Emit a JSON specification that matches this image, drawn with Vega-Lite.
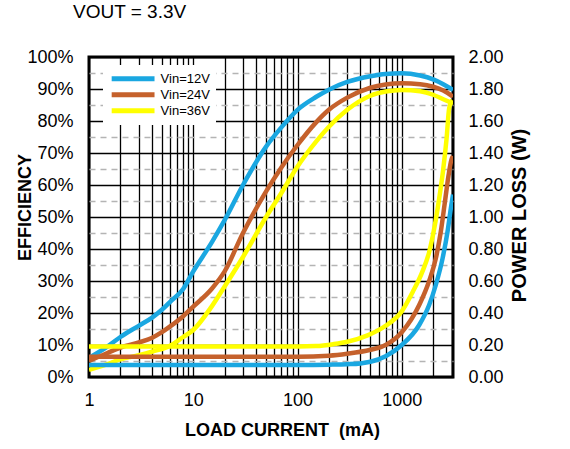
{
  "$schema": "https://vega.github.io/schema/vega-lite/v6.json",
  "autosize": "none",
  "width": 364,
  "height": 320,
  "padding": {"left": 89, "top": 57, "right": 117, "bottom": 72},
  "background": "white",
  "title": {
    "text": "VOUT = 3.3V",
    "anchor": "start",
    "frame": "group",
    "dx": -16,
    "offset": 26,
    "fontSize": 19,
    "fontWeight": "normal",
    "font": "Liberation Sans",
    "color": "black"
  },
  "datasets": {
    "eff": [
      {"I": 1, "eff": 0.06, "vin": "Vin=12V"},
      {"I": 1.5, "eff": 0.095, "vin": "Vin=12V"},
      {"I": 2, "eff": 0.125, "vin": "Vin=12V"},
      {"I": 3, "eff": 0.16, "vin": "Vin=12V"},
      {"I": 4, "eff": 0.185, "vin": "Vin=12V"},
      {"I": 5, "eff": 0.21, "vin": "Vin=12V"},
      {"I": 6, "eff": 0.235, "vin": "Vin=12V"},
      {"I": 8, "eff": 0.275, "vin": "Vin=12V"},
      {"I": 10, "eff": 0.33, "vin": "Vin=12V"},
      {"I": 15, "eff": 0.42, "vin": "Vin=12V"},
      {"I": 20, "eff": 0.49, "vin": "Vin=12V"},
      {"I": 30, "eff": 0.6, "vin": "Vin=12V"},
      {"I": 50, "eff": 0.72, "vin": "Vin=12V"},
      {"I": 70, "eff": 0.78, "vin": "Vin=12V"},
      {"I": 100, "eff": 0.835, "vin": "Vin=12V"},
      {"I": 150, "eff": 0.875, "vin": "Vin=12V"},
      {"I": 200, "eff": 0.898, "vin": "Vin=12V"},
      {"I": 300, "eff": 0.922, "vin": "Vin=12V"},
      {"I": 500, "eff": 0.94, "vin": "Vin=12V"},
      {"I": 700, "eff": 0.947, "vin": "Vin=12V"},
      {"I": 1000, "eff": 0.949, "vin": "Vin=12V"},
      {"I": 1500, "eff": 0.942, "vin": "Vin=12V"},
      {"I": 2000, "eff": 0.93, "vin": "Vin=12V"},
      {"I": 2500, "eff": 0.915, "vin": "Vin=12V"},
      {"I": 3100, "eff": 0.897, "vin": "Vin=12V"},
      {"I": 1, "eff": 0.05, "vin": "Vin=24V"},
      {"I": 1.5, "eff": 0.075, "vin": "Vin=24V"},
      {"I": 2, "eff": 0.092, "vin": "Vin=24V"},
      {"I": 3, "eff": 0.108, "vin": "Vin=24V"},
      {"I": 4, "eff": 0.122, "vin": "Vin=24V"},
      {"I": 5, "eff": 0.14, "vin": "Vin=24V"},
      {"I": 6, "eff": 0.158, "vin": "Vin=24V"},
      {"I": 8, "eff": 0.19, "vin": "Vin=24V"},
      {"I": 10, "eff": 0.22, "vin": "Vin=24V"},
      {"I": 15, "eff": 0.275, "vin": "Vin=24V"},
      {"I": 20, "eff": 0.33, "vin": "Vin=24V"},
      {"I": 30, "eff": 0.45, "vin": "Vin=24V"},
      {"I": 50, "eff": 0.58, "vin": "Vin=24V"},
      {"I": 70, "eff": 0.655, "vin": "Vin=24V"},
      {"I": 100, "eff": 0.725, "vin": "Vin=24V"},
      {"I": 150, "eff": 0.795, "vin": "Vin=24V"},
      {"I": 200, "eff": 0.835, "vin": "Vin=24V"},
      {"I": 300, "eff": 0.873, "vin": "Vin=24V"},
      {"I": 500, "eff": 0.904, "vin": "Vin=24V"},
      {"I": 700, "eff": 0.914, "vin": "Vin=24V"},
      {"I": 1000, "eff": 0.918, "vin": "Vin=24V"},
      {"I": 1500, "eff": 0.915, "vin": "Vin=24V"},
      {"I": 2000, "eff": 0.907, "vin": "Vin=24V"},
      {"I": 2500, "eff": 0.895, "vin": "Vin=24V"},
      {"I": 3100, "eff": 0.876, "vin": "Vin=24V"},
      {"I": 1, "eff": 0.022, "vin": "Vin=36V"},
      {"I": 1.5, "eff": 0.04, "vin": "Vin=36V"},
      {"I": 2, "eff": 0.055, "vin": "Vin=36V"},
      {"I": 3, "eff": 0.068, "vin": "Vin=36V"},
      {"I": 4, "eff": 0.079, "vin": "Vin=36V"},
      {"I": 6, "eff": 0.098, "vin": "Vin=36V"},
      {"I": 8, "eff": 0.125, "vin": "Vin=36V"},
      {"I": 10, "eff": 0.147, "vin": "Vin=36V"},
      {"I": 15, "eff": 0.22, "vin": "Vin=36V"},
      {"I": 20, "eff": 0.283, "vin": "Vin=36V"},
      {"I": 30, "eff": 0.375, "vin": "Vin=36V"},
      {"I": 50, "eff": 0.5, "vin": "Vin=36V"},
      {"I": 70, "eff": 0.575, "vin": "Vin=36V"},
      {"I": 100, "eff": 0.658, "vin": "Vin=36V"},
      {"I": 150, "eff": 0.735, "vin": "Vin=36V"},
      {"I": 200, "eff": 0.782, "vin": "Vin=36V"},
      {"I": 300, "eff": 0.835, "vin": "Vin=36V"},
      {"I": 500, "eff": 0.879, "vin": "Vin=36V"},
      {"I": 700, "eff": 0.892, "vin": "Vin=36V"},
      {"I": 1000, "eff": 0.897, "vin": "Vin=36V"},
      {"I": 1500, "eff": 0.893, "vin": "Vin=36V"},
      {"I": 2000, "eff": 0.882, "vin": "Vin=36V"},
      {"I": 2500, "eff": 0.868, "vin": "Vin=36V"},
      {"I": 3100, "eff": 0.855, "vin": "Vin=36V"}
    ],
    "loss": [
      {"I": 1, "loss": 0.075, "vin": "Vin=12V"},
      {"I": 100, "loss": 0.075, "vin": "Vin=12V"},
      {"I": 200, "loss": 0.077, "vin": "Vin=12V"},
      {"I": 300, "loss": 0.08, "vin": "Vin=12V"},
      {"I": 400, "loss": 0.085, "vin": "Vin=12V"},
      {"I": 500, "loss": 0.095, "vin": "Vin=12V"},
      {"I": 700, "loss": 0.13, "vin": "Vin=12V"},
      {"I": 1000, "loss": 0.2, "vin": "Vin=12V"},
      {"I": 1470, "loss": 0.325, "vin": "Vin=12V"},
      {"I": 1830, "loss": 0.45, "vin": "Vin=12V"},
      {"I": 2120, "loss": 0.575, "vin": "Vin=12V"},
      {"I": 2460, "loss": 0.74, "vin": "Vin=12V"},
      {"I": 2750, "loss": 0.91, "vin": "Vin=12V"},
      {"I": 2950, "loss": 1.05, "vin": "Vin=12V"},
      {"I": 3100, "loss": 1.14, "vin": "Vin=12V"},
      {"I": 1, "loss": 0.127, "vin": "Vin=24V"},
      {"I": 100, "loss": 0.127, "vin": "Vin=24V"},
      {"I": 200, "loss": 0.133, "vin": "Vin=24V"},
      {"I": 300, "loss": 0.145, "vin": "Vin=24V"},
      {"I": 500, "loss": 0.17, "vin": "Vin=24V"},
      {"I": 700, "loss": 0.2, "vin": "Vin=24V"},
      {"I": 1000, "loss": 0.28, "vin": "Vin=24V"},
      {"I": 1470, "loss": 0.45, "vin": "Vin=24V"},
      {"I": 1830, "loss": 0.6, "vin": "Vin=24V"},
      {"I": 2120, "loss": 0.74, "vin": "Vin=24V"},
      {"I": 2370, "loss": 0.91, "vin": "Vin=24V"},
      {"I": 2600, "loss": 1.1, "vin": "Vin=24V"},
      {"I": 2810, "loss": 1.26, "vin": "Vin=24V"},
      {"I": 3000, "loss": 1.36, "vin": "Vin=24V"},
      {"I": 3100, "loss": 1.38, "vin": "Vin=24V"},
      {"I": 1, "loss": 0.19, "vin": "Vin=36V"},
      {"I": 100, "loss": 0.19, "vin": "Vin=36V"},
      {"I": 150, "loss": 0.193, "vin": "Vin=36V"},
      {"I": 220, "loss": 0.205, "vin": "Vin=36V"},
      {"I": 300, "loss": 0.22, "vin": "Vin=36V"},
      {"I": 470, "loss": 0.26, "vin": "Vin=36V"},
      {"I": 700, "loss": 0.32, "vin": "Vin=36V"},
      {"I": 1000, "loss": 0.41, "vin": "Vin=36V"},
      {"I": 1270, "loss": 0.53, "vin": "Vin=36V"},
      {"I": 1580, "loss": 0.66, "vin": "Vin=36V"},
      {"I": 1830, "loss": 0.78, "vin": "Vin=36V"},
      {"I": 2050, "loss": 0.93, "vin": "Vin=36V"},
      {"I": 2290, "loss": 1.12, "vin": "Vin=36V"},
      {"I": 2500, "loss": 1.3, "vin": "Vin=36V"},
      {"I": 2690, "loss": 1.49, "vin": "Vin=36V"},
      {"I": 2850, "loss": 1.68, "vin": "Vin=36V"},
      {"I": 3050, "loss": 1.73, "vin": "Vin=36V"}
    ]
  },
  "layer": [
    {
      "data": {"name": "eff"},
      "mark": {"type": "line", "strokeWidth": 4.5, "interpolate": "monotone", "clip": true},
      "encoding": {
        "x": {
          "field": "I",
          "type": "quantitative",
          "scale": {"type": "log", "domain": [1, 3100], "nice": false},
          "axis": {
            "values": [1, 2, 3, 4, 5, 6, 7, 8, 9, 10, 20, 30, 40, 50, 60, 70, 80, 90, 100, 200, 300, 400, 500, 600, 700, 800, 900, 1000, 2000, 3000],
            "format": "d",
            "labelExpr": "indexof(['1','10','100','1000'], datum.label) >= 0 ? datum.label : ''",
            "labelOverlap": false,
            "labelFlush": false,
            "grid": true,
            "gridColor": "black",
            "gridWidth": 1.3,
            "ticks": false,
            "domain": false,
            "labelFont": "Liberation Sans",
            "labelFontSize": 18,
            "labelColor": "black",
            "labelPadding": 14,
            "title": "LOAD CURRENT\u00a0\u00a0(mA)",
            "titleFont": "Liberation Sans",
            "titleFontSize": 18,
            "titleFontWeight": "bold",
            "titleColor": "black",
            "titleX": 193,
            "titleY": 58,
            "titleBaseline": "alphabetic",
            "titleAlign": "center"
          }
        },
        "y": {
          "field": "eff",
          "type": "quantitative",
          "scale": {"domain": [0, 1], "nice": false},
          "axis": {
            "orient": "left",
            "values": [0, 0.05, 0.1, 0.15, 0.2, 0.25, 0.3, 0.35, 0.4, 0.45, 0.5, 0.55, 0.6, 0.65, 0.7, 0.75, 0.8, 0.85, 0.9, 0.95, 1],
            "format": ".0%",
            "labelExpr": "round(datum.value * 100) % 10 == 0 ? datum.label : ''",
            "labelOverlap": false,
            "labelFlush": false,
            "grid": true,
            "gridColor": {"condition": {"test": "round(datum.value * 100) % 10 != 0", "value": "#b4b4b4"}, "value": "black"},
            "gridDash": {"condition": {"test": "round(datum.value * 100) % 10 != 0", "value": [6, 5]}, "value": []},
            "gridWidth": 1.3,
            "ticks": false,
            "domain": false,
            "labelFont": "Liberation Sans",
            "labelFontSize": 18,
            "labelColor": "black",
            "labelPadding": 16,
            "title": "EFFICIENCY",
            "titleFont": "Liberation Sans",
            "titleFontSize": 18,
            "titleFontWeight": "bold",
            "titleColor": "black",
            "titleAngle": 270,
            "titleX": -59,
            "titleY": 150,
            "titleBaseline": "alphabetic",
            "titleAlign": "center"
          }
        },
        "color": {
          "field": "vin",
          "type": "nominal",
          "scale": {"domain": ["Vin=12V", "Vin=24V", "Vin=36V"], "range": ["#1AA7E1", "#C5612C", "#FFFF00"]},
          "legend": {
            "title": null,
            "orient": "none",
            "legendX": 14,
            "legendY": 8,
            "fillColor": "white",
            "padding": 6,
            "symbolType": "M-6,0L6,0",
            "symbolSize": 51,
            "symbolOffset": 17.6,
            "symbolStrokeWidth": 5,
            "labelFont": "Liberation Sans",
            "labelFontSize": 13,
            "labelColor": "black",
            "labelOffset": 21,
            "clipHeight": 15.5,
            "rowPadding": 0
          }
        }
      }
    },
    {
      "data": {"name": "loss"},
      "mark": {"type": "line", "strokeWidth": 4.5, "interpolate": "monotone", "clip": true},
      "encoding": {
        "x": {"field": "I", "type": "quantitative"},
        "y": {
          "field": "loss",
          "type": "quantitative",
          "scale": {"domain": [0, 2], "nice": false},
          "axis": {
            "orient": "right",
            "values": [0, 0.2, 0.4, 0.6, 0.8, 1, 1.2, 1.4, 1.6, 1.8, 2],
            "format": ".2f",
            "labelFlush": false,
            "labelOverlap": false,
            "grid": false,
            "ticks": false,
            "domain": false,
            "labelFont": "Liberation Sans",
            "labelFontSize": 18,
            "labelColor": "black",
            "labelPadding": 15,
            "title": "POWER LOSS (W)",
            "titleFont": "Liberation Sans",
            "titleFontSize": 20,
            "titleFontWeight": "bold",
            "titleColor": "black",
            "titleAngle": 270,
            "titleX": 72,
            "titleY": 158,
            "titleBaseline": "alphabetic",
            "titleAlign": "center"
          }
        },
        "color": {"field": "vin", "type": "nominal"}
      }
    }
  ],
  "resolve": {"scale": {"y": "independent"}, "axis": {"y": "independent"}},
  "config": {
    "view": {"stroke": "black", "strokeWidth": 3},
    "font": "Liberation Sans"
  }
}
